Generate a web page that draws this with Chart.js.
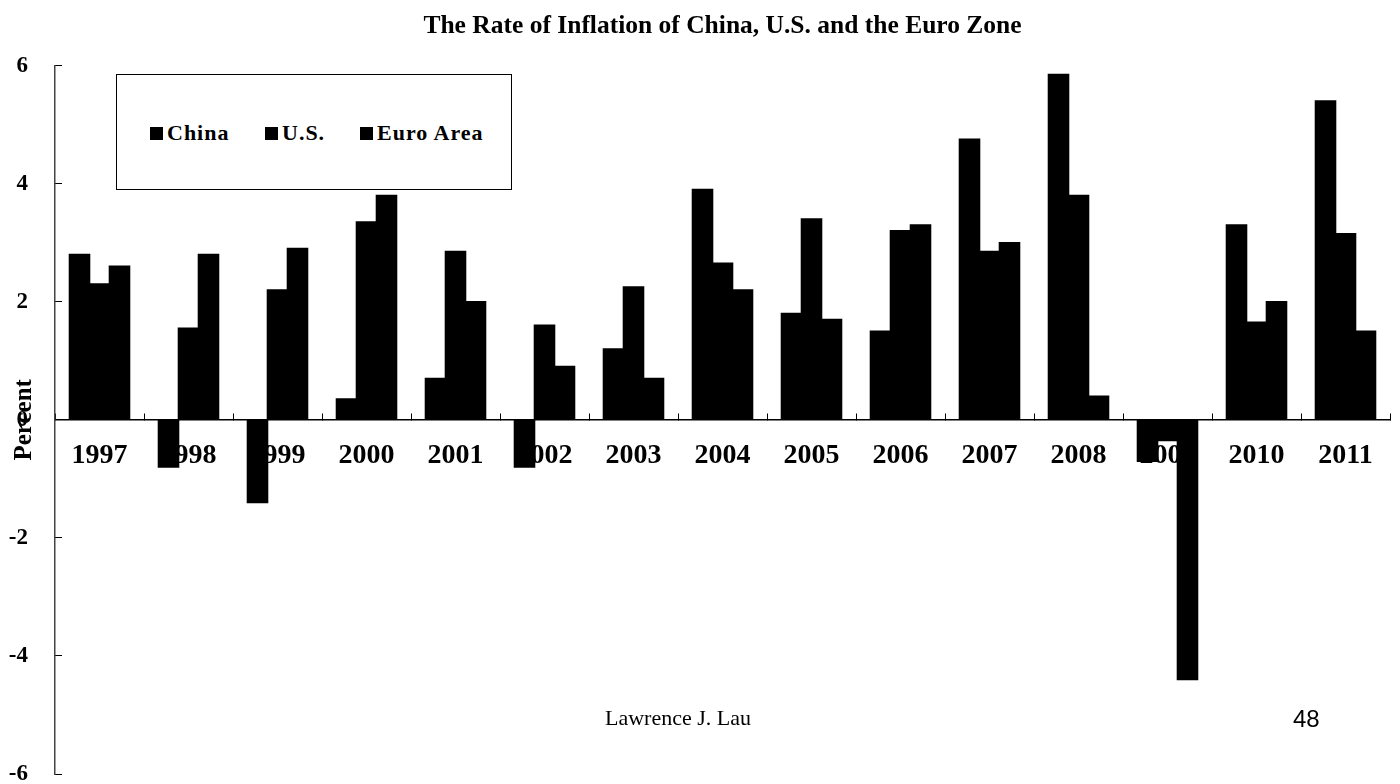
<!DOCTYPE html>
<html>
<head>
<meta charset="utf-8">
<script src="https://cdn.jsdelivr.net/npm/chart.js@4/dist/chart.umd.min.js"></script>
<style>
    body { margin: 0; background: #fff; }
    .wrap { position: relative; width: 1400px; height: 784px; }
    .legend-box {
        position: absolute; left: 116px; top: 74px; width: 394px; height: 114px;
        border: 1.5px solid #000; background: #fff;
        font: bold 22px "Liberation Serif", serif; color: #000; letter-spacing: 1px;
    }
    .legend-item { position: absolute; top: 45px; white-space: nowrap; }
    .legend-item span.mark {
        display: inline-block; width: 13px; height: 13px; background: #000;
        margin-right: 4px; vertical-align: 0px;
    }
    .footer { position: absolute; top: 705px; color: #000; }
</style>
</head>
<body>
<div class="wrap">
    <canvas id="chart"></canvas>
    <div class="legend-box" id="legend"></div>
    <div class="footer" style="left:605px; font: 22px 'Liberation Serif', serif;">Lawrence J. Lau</div>
    <div class="footer" style="left:1293px; font: 24px 'Liberation Sans', sans-serif;">48</div>
</div>
<script>
const YEARS = ['1997', '1998', '1999', '2000', '2001', '2002', '2003', '2004',
               '2005', '2006', '2007', '2008', '2009', '2010', '2011'];
const CHINA = [2.8, -0.8, -1.4, 0.35, 0.7, -0.8, 1.2, 3.9, 1.8, 1.5, 4.75, 5.85, -0.7, 3.3, 5.4];
const US = [2.3, 1.55, 2.2, 3.35, 2.85, 1.6, 2.25, 2.65, 3.4, 3.2, 2.85, 3.8, -0.35, 1.65, 3.15];
const EURO = [2.6, 2.8, 2.9, 3.8, 2.0, 0.9, 0.7, 2.2, 1.7, 3.3, 3.0, 0.4, -4.4, 2.0, 1.5];
const SERIES_NAMES = ['China', 'U.S.', 'Euro Area'];
const Y_TICKS = [-6, -4, -2, 0, 2, 4, 6];

const SERIF = '"Liberation Serif", "Times New Roman", serif';

function buildLegend(names){
    const box = document.getElementById('legend');
    const lefts = [33, 148, 243];

    names.forEach((name, i) => {
        const item = document.createElement('div');
        item.className = 'legend-item';
        item.style.left = lefts[i] + 'px';
        item.innerHTML = '<span class="mark"></span>' + name;
        box.appendChild(item);
    });
}

function makeDataset(label, data){
    return {
        label: label,
        data: data,
        backgroundColor: '#000',
        borderWidth: 0,
        inflateAmount: 0.8,
        barPercentage: 1,
        categoryPercentage: 0.674
    };
}

const config = {
    type: 'bar',
    data: {
        labels: YEARS,
        datasets: [
            makeDataset(SERIES_NAMES[0], CHINA),
            makeDataset(SERIES_NAMES[1], US),
            makeDataset(SERIES_NAMES[2], EURO)
        ]
    },
    options: {
        responsive: true,
        maintainAspectRatio: false,
        animation: false,
        layout: { padding: { left: 0, right: 10, top: 0, bottom: 10 } },
        plugins: {
            legend: { display: false },
            tooltip: { enabled: false },
            title: {
                display: true,
                fullSize: false,
                text: 'The Rate of Inflation of China, U.S. and the Euro Zone',
                color: '#000',
                font: { family: SERIF, size: 25.5, weight: 'bold', lineHeight: 1.2 },
                padding: { top: 11, bottom: 24 }
            }
        },
        scales: {
            x: {
                position: { y: 0 },
                afterFit: (scale) => {
                    scale.height = 0;
                },
                grid: {
                    drawOnChartArea: false,
                    drawTicks: true,
                    tickLength: -7,
                    color: '#000',
                    lineWidth: 1
                },
                border: { display: true, color: '#000', width: 1.5 },
                ticks: {
                    color: '#000',
                    padding: 26,
                    maxRotation: 0,
                    autoSkip: false,
                    font: { family: SERIF, size: 28, weight: 'bold', lineHeight: 1.2 }
                }
            },
            y: {
                min: -6,
                max: 6,
                afterBuildTicks: (scale) => {
                    scale.ticks = Y_TICKS.map(v => ({ value: v }));
                },
                afterFit: (scale) => {
                    // the wide tick padding would otherwise eat into the top and bottom
                    scale.width = 55;
                    scale.paddingTop = 10;
                    scale.paddingBottom = 10;
                },
                grid: {
                    drawOnChartArea: false,
                    drawTicks: true,
                    tickLength: -7,
                    color: '#000',
                    lineWidth: 1
                },
                border: { display: true, color: '#444', width: 1.5 },
                ticks: {
                    color: '#000',
                    padding: 34,
                    font: { family: SERIF, size: 23, weight: 'bold', lineHeight: 1.0 }
                },
                title: {
                    display: true,
                    text: 'Percent',
                    color: '#000',
                    padding: { top: 10, bottom: 0 },
                    font: { family: SERIF, size: 25, weight: 'bold', lineHeight: 1.2 }
                }
            }
        }
    }
};

buildLegend(SERIES_NAMES);
new Chart(document.getElementById('chart').getContext('2d'), config);
</script>
</body>
</html>
